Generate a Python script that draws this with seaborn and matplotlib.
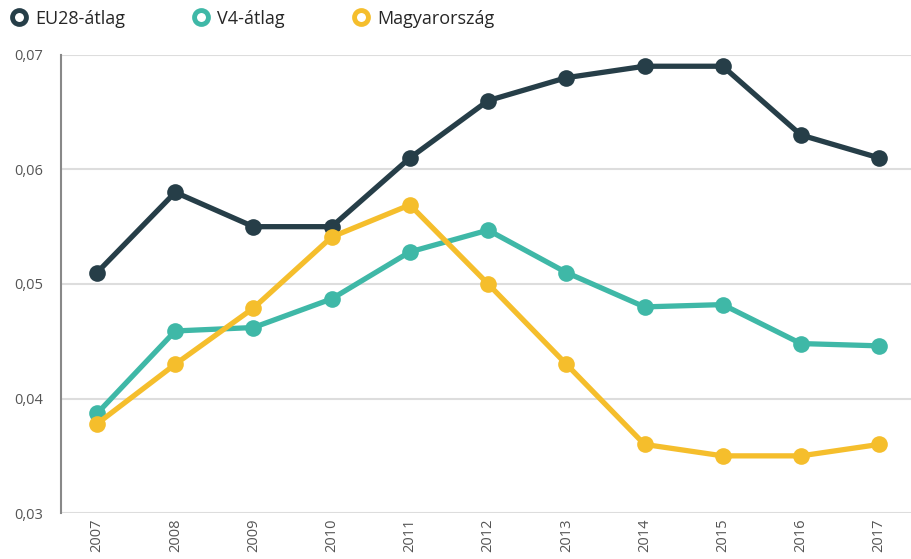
import pandas as pd
import matplotlib.pyplot as plt
from matplotlib.lines import Line2D
import seaborn as sns

years = list(range(2007, 2018))
eu28 = [0.051, 0.058, 0.055, 0.055, 0.061, 0.066, 0.068, 0.069, 0.069, 0.063, 0.061]
v4 = [0.0387, 0.0459, 0.0462, 0.0487, 0.0528, 0.0547, 0.0510, 0.0480, 0.0482, 0.0448, 0.0446]
hu = [0.0378, 0.0430, 0.0479, 0.0541, 0.0569, 0.0500, 0.0430, 0.0360, 0.0350, 0.0350, 0.0360]
names = ["EU28-átlag", "V4-átlag", "Magyarország"]
colors = ["#263e48", "#3fb8a7", "#f5be2c"]

df = pd.DataFrame({"year": years * 3,
                   "value": eu28 + v4 + hu,
                   "series": [names[0]] * 11 + [names[1]] * 11 + [names[2]] * 11})

sns.set_style("white")
plt.rcParams['font.family'] = ['Open Sans', 'DejaVu Sans']

fig = plt.figure(figsize=(9.12, 5.59), dpi=100)
ax = fig.add_axes([0.067, 0.082, 0.933, 0.82])

sns.lineplot(data=df, x="year", y="value", hue="series", palette=colors,
             marker="o", markersize=12, markeredgewidth=0, linewidth=3.8,
             legend=False, ax=ax)

ax.set_xlim(2006.54, 2017.42)
ax.set_ylim(0.03, 0.07)
ax.set_yticks([0.03, 0.04, 0.05, 0.06, 0.07])
ax.set_yticklabels(["0,03", "0,04", "0,05", "0,06", "0,07"])
ax.set_xticks(years)
ax.set_xticklabels([str(y) for y in years], rotation=90)
ax.tick_params(axis="both", length=0, labelsize=10.5, colors="#555555")
ax.tick_params(axis="y", pad=13)
ax.yaxis.grid(True, color="#dddddd", linewidth=1.5)
ax.set_axisbelow(True)
ax.set_xlabel("")
ax.set_ylabel("")
for s in ["top", "right", "bottom"]:
    ax.spines[s].set_visible(False)
ax.spines["left"].set_color("#888888")
ax.spines["left"].set_linewidth(1.5)

handles = [Line2D([], [], linestyle="none", marker="o", markersize=10,
                  markerfacecolor="white", markeredgecolor=c, markeredgewidth=3.5)
           for c in colors]
fig.legend(handles, names, loc="upper left", bbox_to_anchor=(-0.009, 1.012), ncol=3,
           frameon=False, fontsize=13, handletextpad=0.3, columnspacing=3.6,
           handlelength=1.2)

fig.savefig("out.png", dpi=100)
